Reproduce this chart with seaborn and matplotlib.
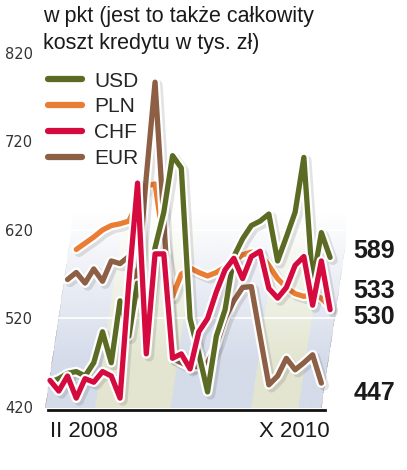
import numpy as np
import pandas as pd
import matplotlib
matplotlib.use("Agg")
import matplotlib.pyplot as plt
import matplotlib.patheffects as pe
from matplotlib.lines import Line2D
import seaborn as sns

# miesiace od II 2008 do X 2010
miesiace = pd.period_range("2008-02", "2010-10", freq="M")
nan = np.nan

usd = [448, 452, 458, 460, 455, 470, 505, 470, 540, 500, 560, 520, 600, 640, 704, 690,
       520, 480, 437, 500, 530, 590, 610, 625, 630, 638, 585, 612, 640, 702, 560, 617, 589]
pln = [nan, nan, nan, 598, 605, 612, 620, 625, 627, 630, 650, 670, 672, 605, 545, 570,
       577, 572, 568, 572, 578, 585, 592, 595, 593, 580, 565, 555, 548, 545, 547, 543, 533]
chf = [450, 438, 455, 430, 452, 448, 460, 455, 430, 560, 673, 480, 593, 593, 475, 480,
       463, 505, 520, 550, 575, 588, 565, 590, 596, 554, 543, 555, 580, 590, 535, 585, 530]
eur = [nan, nan, 564, 572, 560, 576, 562, 585, 582, 590, 560, 680, 787, 630, 475, 470,
       465, 466, 470, 490, 520, 540, 555, 556, 500, 445, 455, 475, 462, 470, 479, 447, nan]

waluty = ["USD", "PLN", "CHF", "EUR"]
kolory = {"USD": "#5b6b23", "PLN": "#ea7d34", "CHF": "#d50b3f", "EUR": "#8d5f45"}
ostatnie = {"USD": 589, "PLN": 533, "CHF": 530, "EUR": 447}
pozycje_etykiet = {"USD": 596, "PLN": 551, "CHF": 522, "EUR": 436}  # przesuniete, zeby sie nie nakladaly

df = pd.DataFrame({"m": np.arange(len(miesiace)), "USD": usd, "PLN": pln, "CHF": chf, "EUR": eur})
dlugi = df.melt(id_vars="m", var_name="waluta", value_name="wartosc").dropna()

sns.set_theme(style="white")
plt.rcParams["font.family"] = ["Liberation Sans", "DejaVu Sans"]

fig = plt.figure(figsize=(4.07, 4.70), dpi=100)
ax = fig.add_axes([40 / 407, 1 - 410 / 470, 305 / 407, 365 / 470])
ax.set_xlim(-10 / 8.75, 33.7)
ax.set_ylim(416.6, 829)

# tlo: ukosne pasy zanikajace ku gorze
xs = np.linspace(-1.2, 33.7, 400)
ys = np.linspace(418.5, 700, 300)
X, Y = np.meshgrid(xs, ys)
Xs = X - (Y - 417) / 100 * 1.5
niebieski = np.array([205, 213, 230]) / 255
zielony = np.array([222, 225, 200]) / 255
img = np.zeros(X.shape + (4,))
granice = [-0.6, 5.1, 13.7, 22.9, 28.3, 30.9]
for i in range(len(granice) - 1):
    maska = (Xs >= granice[i]) & (Xs < granice[i + 1])
    img[maska, :3] = zielony if i % 2 else niebieski
    img[maska, 3] = 1
alfa = np.clip((640 - Y) / (640 - 470), 0, 1) * 0.85
img[..., 3] *= alfa
ax.imshow(img, extent=(xs[0], xs[-1], ys[0], ys[-1]), origin="lower", aspect="auto", zorder=0)
for yy in [520, 620]:
    ax.axhline(yy, color="white", lw=1.2, zorder=1)

kolejnosc = ["PLN", "EUR", "USD", "CHF"]
for w in kolejnosc:
    sns.lineplot(data=dlugi[dlugi.waluta == w], x="m", y="wartosc", color=kolory[w], lw=3.8,
                 ax=ax, zorder=3, solid_joinstyle="round", solid_capstyle="round",
                 path_effects=[pe.SimpleLineShadow(offset=(2, -2), alpha=0.12, shadow_color="k",
                                                   linewidth=7, joinstyle="round"),
                               pe.Stroke(linewidth=7, foreground="white", joinstyle="round"),
                               pe.Normal()])

for w in waluty:
    ax.text(34.7, pozycje_etykiet[w], str(ostatnie[w]), fontsize=18, fontweight="bold",
            color="#1a1a1a", va="center", ha="left", clip_on=False)

# legenda
uchwyty = [Line2D([0], [0], color=kolory[w], lw=4.5, solid_capstyle="round") for w in waluty]
ax.legend(uchwyty, waluty, loc="upper left", bbox_to_anchor=(0.0, 0.95), frameon=False,
          fontsize=15, handlelength=1.6, handletextpad=0.6, labelspacing=0.33, borderaxespad=0)

for s in ["top", "right", "left"]:
    ax.spines[s].set_visible(False)
ax.spines["bottom"].set_color("#111111")
ax.spines["bottom"].set_linewidth(2)
ax.spines["bottom"].set_bounds(-0.2, 31.4)

ax.set_yticks([420, 520, 620, 720, 820])
ax.set_yticklabels(["420", "520", "620", "720", "820"], fontsize=10.5, color="#333333",
                   family=["DejaVu Sans"])
ax.tick_params(axis="y", length=0, pad=5)
ax.set_xticks([0, 32])
etykiety = ax.set_xticklabels(["II 2008", "X 2010"], fontsize=16, color="#1a1a1a")
etykiety[0].set_ha("left")
etykiety[1].set_ha("right")
ax.tick_params(axis="x", length=0, pad=8)
ax.set_xlabel("")
ax.set_ylabel("")

fig.text(43 / 407, 1 - 6 / 470, "w pkt (jest to także całkowity\nkoszt kredytu w tys. zł)",
         fontsize=15.5, color="#1a1a1a", va="top", ha="left", linespacing=1.35)

fig.savefig("out.png", dpi=100)
